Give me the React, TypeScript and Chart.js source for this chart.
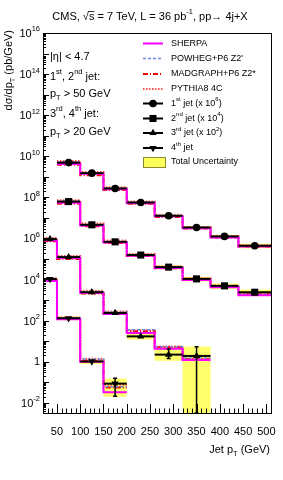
import React, { useEffect, useRef } from 'react';
import { Chart, registerables } from 'chart.js';
Chart.register(...registerables);

// ---------- data ----------
const edges12 = [50, 100, 150, 200, 260, 320, 380, 440, 510];
const edges3 = [20, 50, 100, 150, 200, 260, 320, 380];
const edges4 = [20, 50, 100, 150, 200];

// measured (already scaled: 1st x1e6, 2nd x1e4, 3rd x1e2)
const jet1 = [4.9e9, 1.5e9, 2.7e8, 5.6e7, 1.26e7, 3.4e6, 1.25e6, 4.4e5];
const jet2 = [6.2e7, 4.6e6, 6.8e5, 1.55e5, 4.0e4, 1.07e4, 4.9e3, 2.4e3];
const jet3 = [9.3e5, 1.23e5, 2.4e3, 235, 17, 2.2, 1.9];
const jet4 = [1.05e4, 130, 1.02, 0.085];

// relative total uncertainty (up / down)
const band1Up = [0.12, 0.1, 0.1, 0.12, 0.12, 0.15, 0.18, 0.25];
const band1Dn = [0.12, 0.1, 0.1, 0.12, 0.12, 0.15, 0.18, 0.25];
const band2Up = [0.12, 0.12, 0.12, 0.15, 0.2, 0.25, 0.3, 0.35];
const band2Dn = [0.12, 0.12, 0.12, 0.15, 0.2, 0.25, 0.3, 0.35];
const band3Up = [0.15, 0.15, 0.2, 0.2, 0.4, 1.5, 1.85];
const band3Dn = [0.15, 0.15, 0.2, 0.2, 0.3, 0.5, 1.0];
const band4Up = [0.15, 0.2, 0.25, 0.75];
const band4Dn = [0.15, 0.2, 0.25, 0.77];

// relative statistical error (up / down)
const err1 = [0.01, 0.01, 0.01, 0.01, 0.02, 0.02, 0.03, 0.04];
const err2 = [0.01, 0.01, 0.01, 0.02, 0.03, 0.04, 0.05, 0.06];
const err3Up = [0.02, 0.02, 0.03, 0.05, 0.1, 0.9, 1.8];
const err3Dn = [0.02, 0.02, 0.03, 0.05, 0.1, 0.35, 1.0];
const err4Up = [0.02, 0.05, 0.1, 0.85];
const err4Dn = [0.02, 0.05, 0.1, 0.76];

// models
const sherpa1 = [4.2e9, 1.4e9, 2.5e8, 5.2e7, 1.2e7, 3.1e6, 1.1e6, 4.0e5];
const sherpa2 = [5.5e7, 4.3e6, 6.4e5, 1.45e5, 3.6e4, 9.5e3, 4.2e3, 1.7e3];
const sherpa3 = [8.0e5, 1.1e5, 2.2e3, 210, 25, 4.2, 1.2];
const sherpa4 = [8.5e3, 115, 1.0, 0.032];

const powheg1 = [5.2e9, 1.5e9, 2.8e8, 5.7e7, 1.3e7, 3.4e6, 1.2e6, 4.2e5];
const powheg2 = [6.5e7, 4.6e6, 7.0e5, 1.6e5, 4.0e4, 1.05e4, 4.6e3, 1.9e3];
const powheg3 = [9.5e5, 1.3e5, 2.6e3, 260, 36, 5.3, 1.5];
const powheg4 = [1.05e4, 135, 1.3, 0.06];

const madgraph1 = [3.8e9, 1.2e9, 2.3e8, 4.8e7, 1.1e7, 3.0e6, 1.1e6, 4.0e5];
const madgraph2 = [4.8e7, 3.9e6, 6.0e5, 1.4e5, 3.5e4, 9.5e3, 4.3e3, 1.9e3];
const madgraph3 = [7.2e5, 1.0e5, 2.1e3, 220, 30, 5.0, 1.3];
const madgraph4 = [9.0e3, 120, 1.1, 0.055];

const pythia1 = [5.8e9, 1.7e9, 3.1e8, 6.2e7, 1.4e7, 3.6e6, 1.3e6, 4.6e5];
const pythia2 = [7.2e7, 5.3e6, 7.8e5, 1.75e5, 4.3e4, 1.15e4, 5.0e3, 2.1e3];
const pythia3 = [1.05e6, 1.4e5, 2.8e3, 280, 34, 5.4, 1.4];
const pythia4 = [1.15e4, 140, 1.4, 0.075];

const xTickLabels = [50, 100, 150, 200, 250, 300, 350, 400, 450, 500];
const yLabelExps = [16, 14, 12, 10, 8, 6, 4, 2, 0, -2];
const X_MIN = 20;
const X_MAX = 510;
const Y_MIN = Math.pow(10, -2.5);
const Y_MAX = 1e16;

// ---------- styling ----------
const FONT = '"Liberation Sans", Arial, Helvetica, sans-serif';

const models = [
  { name: 'SHERPA', color: '#ff00ff', width: 2, dash: [] as number[], vals: [sherpa1, sherpa2, sherpa3, sherpa4], order: 1 },
  { name: 'POWHEG+P6 Z2\'', color: '#6b8bdc', width: 1.5, dash: [3, 2], vals: [powheg1, powheg2, powheg3, powheg4], order: 2 },
  { name: 'MADGRAPH+P6 Z2*', color: '#ff0000', width: 2, dash: [5, 2, 1, 2], vals: [madgraph1, madgraph2, madgraph3, madgraph4], order: 3 },
  { name: 'PYTHIA8 4C', color: '#ff4d4d', width: 2, dash: [1.5, 1.5], vals: [pythia1, pythia2, pythia3, pythia4], order: 4 },
];

const jets = [
  { edges: edges12, vals: jet1, bUp: band1Up, bDn: band1Dn, eUp: err1, eDn: err1, style: 'circle', r: 3.8, rot: 0 },
  { edges: edges12, vals: jet2, bUp: band2Up, bDn: band2Dn, eUp: err2, eDn: err2, style: 'rect', r: 5, rot: 0 },
  { edges: edges3, vals: jet3, bUp: band3Up, bDn: band3Dn, eUp: err3Up, eDn: err3Dn, style: 'triangle', r: 4.2, rot: 0 },
  { edges: edges4, vals: jet4, bUp: band4Up, bDn: band4Dn, eUp: err4Up, eDn: err4Dn, style: 'triangle', r: 4.2, rot: 180 },
];

type Part = { t: string; k?: 'sup' | 'sub' | 'ovl' };

function drawParts(ctx: CanvasRenderingContext2D, parts: Part[], x: number, y: number, size: number, align: 'left' | 'right' | 'center') {
  ctx.save();
  ctx.textBaseline = 'middle';
  ctx.textAlign = 'left';
  ctx.fillStyle = '#000';
  let w = 0;
  for (const p of parts) {
    const fs = p.k === 'sup' || p.k === 'sub' ? size * 0.68 : size;
    ctx.font = `${fs}px ${FONT}`;
    w += ctx.measureText(p.t).width;
  }
  let cx = align === 'left' ? x : align === 'right' ? x - w : x - w / 2;
  for (const p of parts) {
    const small = p.k === 'sup' || p.k === 'sub';
    const fs = small ? size * 0.68 : size;
    ctx.font = `${fs}px ${FONT}`;
    const dy = p.k === 'sup' ? -size * 0.42 : p.k === 'sub' ? size * 0.32 : 0;
    ctx.fillText(p.t, cx, y + dy);
    const tw = ctx.measureText(p.t).width;
    if (p.k === 'ovl') {
      ctx.strokeStyle = '#000';
      ctx.lineWidth = 0.8;
      ctx.beginPath();
      ctx.moveTo(cx - 1, y - size * 0.5);
      ctx.lineTo(cx + tw, y - size * 0.5);
      ctx.stroke();
    }
    cx += tw;
  }
  ctx.restore();
  return w;
}

function histPoints(edges: number[], vals: number[]) {
  const pts: { x: number; y: number }[] = [];
  for (let i = 0; i < vals.length; i++) {
    pts.push({ x: edges[i], y: vals[i] });
    pts.push({ x: edges[i + 1], y: vals[i] });
  }
  return pts;
}

function drawMarker(ctx: CanvasRenderingContext2D, style: string, r: number, rot: number, x: number, y: number) {
  ctx.save();
  ctx.fillStyle = '#000';
  ctx.beginPath();
  if (style === 'circle') {
    ctx.arc(x, y, r, 0, Math.PI * 2);
  } else if (style === 'rect') {
    const s = r * Math.SQRT1_2;
    ctx.rect(x - s, y - s, 2 * s, 2 * s);
  } else {
    const a = (rot * Math.PI) / 180;
    for (let k = 0; k < 3; k++) {
      const ang = a - Math.PI / 2 + (k * 2 * Math.PI) / 3;
      const px = x + Math.cos(ang) * r;
      const py = y + Math.sin(ang) * r;
      if (k === 0) ctx.moveTo(px, py);
      else ctx.lineTo(px, py);
    }
    ctx.closePath();
  }
  ctx.fill();
  ctx.restore();
}

const decorPlugin = {
  id: 'hepDecor',
  beforeDatasetsDraw(chart: any) {
    const { ctx, chartArea: a, scales } = chart;
    const xs = scales.x;
    const ys = scales.y;
    const yp = (v: number) => (v <= Y_MIN ? a.bottom + 2 : ys.getPixelForValue(v));
    ctx.save();
    ctx.beginPath();
    ctx.rect(a.left, a.top, a.right - a.left, a.bottom - a.top);
    ctx.clip();
    for (const j of jets) {
      for (let i = 0; i < j.vals.length; i++) {
        const x0 = xs.getPixelForValue(j.edges[i]);
        const x1 = xs.getPixelForValue(j.edges[i + 1]);
        const hi = yp(j.vals[i] * (1 + j.bUp[i]));
        const lo = yp(j.vals[i] * (1 - j.bDn[i]));
        ctx.fillStyle = 'rgba(255,255,60,0.75)';
        ctx.fillRect(x0, hi, x1 - x0, lo - hi);
      }
    }
    ctx.restore();
  },
  afterDatasetsDraw(chart: any) {
    const { ctx, chartArea: a, scales } = chart;
    const xs = scales.x;
    const ys = scales.y;
    const yp = (v: number) => (v <= Y_MIN ? a.bottom : ys.getPixelForValue(v));
    ctx.save();
    ctx.beginPath();
    ctx.rect(a.left, a.top, a.right - a.left, a.bottom - a.top);
    ctx.clip();
    ctx.strokeStyle = '#000';
    ctx.lineWidth = 2;
    for (const j of jets) {
      for (let i = 0; i < j.vals.length; i++) {
        const x0 = xs.getPixelForValue(j.edges[i]);
        const x1 = xs.getPixelForValue(j.edges[i + 1]);
        const xc = (x0 + x1) / 2;
        const y = ys.getPixelForValue(j.vals[i]);
        ctx.beginPath();
        ctx.moveTo(x0, y);
        ctx.lineTo(x1, y);
        ctx.stroke();
        const hi = yp(j.vals[i] * (1 + j.eUp[i]));
        const lo = yp(j.vals[i] * (1 - j.eDn[i]));
        if (lo - hi > 2 * j.r) {
          ctx.lineWidth = 1.5;
          ctx.beginPath();
          ctx.moveTo(xc, hi);
          ctx.lineTo(xc, lo);
          ctx.moveTo(xc - 2, hi);
          ctx.lineTo(xc + 2, hi);
          ctx.moveTo(xc - 2, lo);
          ctx.lineTo(xc + 2, lo);
          ctx.stroke();
          ctx.lineWidth = 2;
        }
      }
    }
    ctx.restore();
  },
  afterDraw(chart: any) {
    const { ctx, chartArea: a, scales } = chart;
    const xs = scales.x;
    const ys = scales.y;
    ctx.save();
    // frame
    ctx.strokeStyle = '#000';
    ctx.lineWidth = 1;
    ctx.strokeRect(Math.round(a.left) + 0.5, Math.round(a.top) + 0.5, Math.round(a.right - a.left), Math.round(a.bottom - a.top));
    // x ticks
    ctx.beginPath();
    for (let v = X_MIN; v <= X_MAX; v += 10) {
      const px = Math.round(xs.getPixelForValue(v)) + 0.5;
      const len = v % 50 === 0 ? 9 : 4.5;
      ctx.moveTo(px, a.bottom);
      ctx.lineTo(px, a.bottom - len);
    }
    // y ticks
    for (let e = -3; e <= 16; e++) {
      for (let m = 1; m <= 9; m++) {
        const v = m * Math.pow(10, e);
        if (v < Y_MIN || v > Y_MAX) continue;
        const py = Math.round(ys.getPixelForValue(v)) + 0.5;
        const len = m === 1 ? 6 : 3;
        ctx.moveTo(a.left, py);
        ctx.lineTo(a.left + len, py);
      }
    }
    ctx.stroke();
    // x labels
    for (const v of xTickLabels) {
      drawParts(ctx, [{ t: String(v) }], xs.getPixelForValue(v), 432, 11, 'center');
    }
    // y labels
    for (const e of yLabelExps) {
      const py = ys.getPixelForValue(Math.pow(10, e));
      if (e === 0) drawParts(ctx, [{ t: '1' }], 40, py, 11, 'right');
      else drawParts(ctx, [{ t: '10' }, { t: String(e), k: 'sup' }], 40, py + 1, 11, 'right');
    }
    // axis titles
    drawParts(ctx, [{ t: 'Jet p' }, { t: 'T', k: 'sub' }, { t: ' (GeV)' }], 270, 450, 11, 'right');
    ctx.save();
    ctx.translate(9, 30);
    ctx.rotate(-Math.PI / 2);
    drawParts(ctx, [{ t: 'd\u03c3/dp' }, { t: 'T', k: 'sub' }, { t: ' (pb/GeV)' }], 0, 0, 11, 'right');
    ctx.restore();
    // title
    drawParts(
      ctx,
      [{ t: 'CMS, \u221a' }, { t: 's', k: 'ovl' }, { t: ' = 7 TeV, L = 36 pb' }, { t: '-1', k: 'sup' }, { t: ', pp\u2192 4j+X' }],
      150,
      17,
      11,
      'center'
    );
    // left info text
    drawParts(ctx, [{ t: '|\u03b7| < 4.7' }], 50, 57, 11, 'left');
    drawParts(ctx, [{ t: '1' }, { t: 'st', k: 'sup' }, { t: ', 2' }, { t: 'nd', k: 'sup' }, { t: ' jet:' }], 50, 77, 11, 'left');
    drawParts(ctx, [{ t: 'p' }, { t: 'T', k: 'sub' }, { t: ' > 50 GeV' }], 50, 94, 11, 'left');
    drawParts(ctx, [{ t: '3' }, { t: 'rd', k: 'sup' }, { t: ', 4' }, { t: 'th', k: 'sup' }, { t: ' jet:' }], 50, 114, 11, 'left');
    drawParts(ctx, [{ t: 'p' }, { t: 'T', k: 'sub' }, { t: ' > 20 GeV' }], 50, 132, 11, 'left');
    // legend
    const lx0 = 143;
    const lx1 = 163;
    const tx = 171;
    const ly = [43.5, 58.5, 74, 89, 103.5, 118.5, 133, 148, 162];
    models.forEach((m, i) => {
      ctx.save();
      ctx.strokeStyle = m.color;
      ctx.lineWidth = m.width;
      ctx.setLineDash(m.dash);
      ctx.beginPath();
      ctx.moveTo(lx0, ly[i]);
      ctx.lineTo(lx1, ly[i]);
      ctx.stroke();
      ctx.restore();
      drawParts(ctx, [{ t: m.name }], tx, ly[i], 9, 'left');
    });
    const jetLabels: Part[][] = [
      [{ t: '1' }, { t: 'st', k: 'sup' }, { t: ' jet (x 10' }, { t: '6', k: 'sup' }, { t: ')' }],
      [{ t: '2' }, { t: 'nd', k: 'sup' }, { t: ' jet (x 10' }, { t: '4', k: 'sup' }, { t: ')' }],
      [{ t: '3' }, { t: 'rd', k: 'sup' }, { t: ' jet (x 10' }, { t: '2', k: 'sup' }, { t: ')' }],
      [{ t: '4' }, { t: 'th', k: 'sup' }, { t: ' jet' }],
    ];
    jets.forEach((j, i) => {
      const y = ly[4 + i];
      ctx.save();
      ctx.strokeStyle = '#000';
      ctx.lineWidth = 2;
      ctx.beginPath();
      ctx.moveTo(lx0, y);
      ctx.lineTo(lx1, y);
      ctx.stroke();
      ctx.restore();
      drawMarker(ctx, j.style, j.r, j.rot, (lx0 + lx1) / 2, y);
      drawParts(ctx, jetLabels[i], tx, y, 9, 'left');
    });
    ctx.save();
    ctx.fillStyle = 'rgba(255,255,60,0.85)';
    ctx.fillRect(lx0, ly[8] - 5, 22, 10);
    ctx.strokeStyle = '#8a8a30';
    ctx.lineWidth = 1;
    ctx.strokeRect(lx0 + 0.5, ly[8] - 4.5, 22, 10);
    ctx.restore();
    drawParts(ctx, [{ t: 'Total Uncertainty' }], tx, ly[8], 9, 'left');
    ctx.restore();
  },
};

export default function App() {
  const ref = useRef<HTMLCanvasElement | null>(null);
  useEffect(() => {
    if (!ref.current) return;
    const datasets: any[] = [];
    models.forEach((m) => {
      jets.forEach((j, ji) => {
        datasets.push({
          type: 'line',
          label: m.name,
          data: histPoints(j.edges, m.vals[ji]),
          borderColor: m.color,
          borderWidth: m.width,
          borderDash: m.dash,
          pointRadius: 0,
          fill: false,
          tension: 0,
          order: m.order,
        });
      });
    });
    jets.forEach((j, ji) => {
      datasets.push({
        type: 'line',
        label: 'jet' + (ji + 1),
        data: j.vals.map((v, i) => ({ x: (j.edges[i] + j.edges[i + 1]) / 2, y: v })),
        showLine: false,
        pointStyle: j.style,
        pointRadius: j.r,
        pointRotation: j.rot,
        pointBackgroundColor: '#000',
        pointBorderColor: '#000',
        pointBorderWidth: 0,
        order: 0,
      });
    });
    const chart = new Chart(ref.current, {
      type: 'line',
      data: { datasets },
      options: {
        animation: false,
        responsive: false,
        devicePixelRatio: 1,
        layout: { padding: { left: 43, top: 33, right: 12, bottom: 67 } },
        plugins: { legend: { display: false }, tooltip: { enabled: false }, title: { display: false } },
        scales: {
          x: { type: 'linear', min: X_MIN, max: X_MAX, display: false },
          y: { type: 'logarithmic', min: Y_MIN, max: Y_MAX, display: false },
        },
      },
      plugins: [decorPlugin],
    } as any);
    return () => chart.destroy();
  }, []);
  return (
    <div style={{ position: 'absolute', left: 0, top: 0, width: 283, height: 480, background: '#fff' }}>
      <canvas ref={ref} width={283} height={480} style={{ width: 283, height: 480, display: 'block' }} />
    </div>
  );
}
